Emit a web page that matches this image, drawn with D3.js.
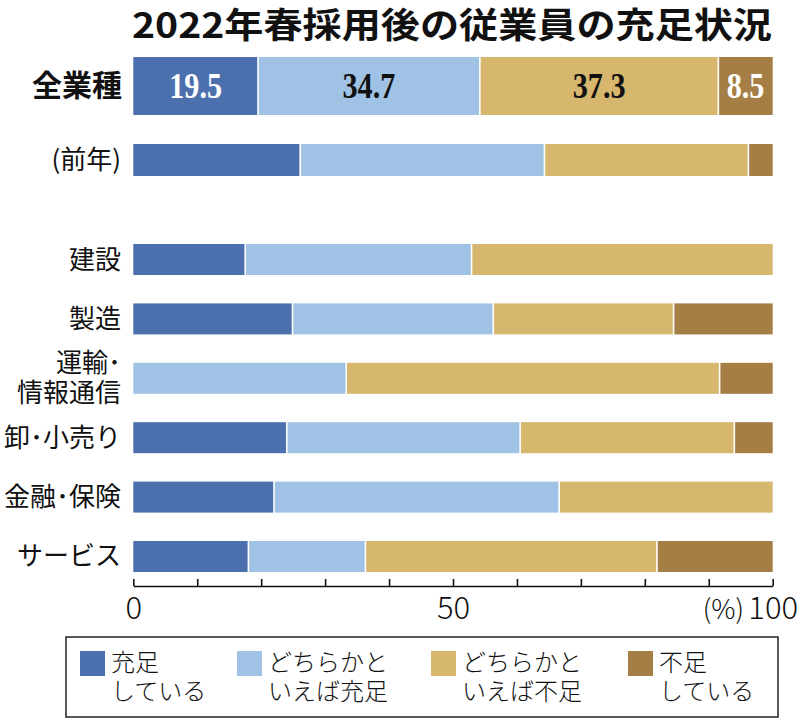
<!DOCTYPE html>
<html><head><meta charset="utf-8">
<script src="https://cdn.jsdelivr.net/npm/d3@7"></script>
<style>
html,body{margin:0;padding:0;background:#fff;}
svg{display:block;font-family:"Noto Sans CJK JP","Noto Sans",sans-serif;}
</style></head>
<body>
<svg id="chart" width="800" height="723"></svg>
<script>
// ---- data ----
const title = "2022年春採用後の従業員の充足状況";
const categories = ["全業種", "(前年)", "建設", "製造", "運輸･\n情報通信", "卸･小売り", "金融･保険", "サービス"];
const seriesNames = ["充足\nしている", "どちらかと\nいえば充足", "どちらかと\nいえば不足", "不足\nしている"];
const juusoku        = [19.5, 26.1, 17.5, 24.9, 0.0, 24.0, 22.0, 18.0];
const dochiraJuusoku = [34.7, 38.2, 35.4, 31.4, 33.3, 36.5, 44.6, 18.3];
const dochiraFusoku  = [37.3, 31.9, 47.1, 28.2, 58.4, 33.5, 33.4, 45.6];
const fusoku         = [8.5, 3.8, 0.0, 15.5, 8.3, 6.0, 0.0, 18.1];
const valueLabels = ["19.5", "34.7", "37.3", "8.5"]; // shown on 全業種 row
const tickValues = [0, 10, 20, 30, 40, 50, 60, 70, 80, 90, 100];
const tickLabels = {0: "0", 50: "50", 100: "100"};
const unitLabel = "(%)";

// ---- styles ----
const colors = ["#4b70ad", "#9fc2e5", "#d7b66d", "#a57e45"];
const labelColors = ["#ffffff", "#111111", "#111111", "#ffffff"];

const svg = d3.select("#chart");
const x = d3.scaleLinear().domain([0, 100]).range([133.3, 772.7]);

// row layout: two summary rows + band scale for industries
const topRows = categories.slice(0, 2);
const indRows = categories.slice(2);
const yTop = {};
yTop[topRows[0]] = {y: 57, h: 58};
yTop[topRows[1]] = {y: 144, h: 32};
const yInd = d3.scaleBand().domain(indRows).range([244, 572]).paddingInner(0.478).paddingOuter(0);
function rowPos(c) {
  if (yTop[c]) return yTop[c];
  return {y: yInd(c), h: yInd.bandwidth()};
}

const seriesVals = [juusoku, dochiraJuusoku, dochiraFusoku, fusoku];
const rows = categories.map((c, i) => {
  const vals = seriesVals.map(s => s[i]);
  let acc = 0;
  const segs = vals.map((v, k) => { const s = {k, v, x0: acc, x1: acc + v}; acc += v; return s; });
  return {c, i, segs};
});

// title
svg.append("text")
  .attr("x", 452).attr("y", 38)
  .attr("text-anchor", "middle")
  .attr("font-size", 35).attr("font-weight", "bold")
  .attr("textLength", 640).attr("lengthAdjust", "spacingAndGlyphs")
  .attr("fill", "#111")
  .text(title);

// bars
const gap = 0.8;
const rowG = svg.append("g").selectAll("g").data(rows).join("g");
rowG.each(function(r) {
  const p = rowPos(r.c);
  const g = d3.select(this);
  g.selectAll("rect").data(r.segs.filter(s => s.v > 0)).join("rect")
    .attr("x", s => x(s.x0) + (s.x0 > 0 ? gap : 0))
    .attr("width", s => Math.max(0, x(s.x1) - x(s.x0) - (s.x0 > 0 ? gap : 0) - (s.x1 < 99.95 ? gap : 0)))
    .attr("y", p.y).attr("height", p.h)
    .attr("fill", s => colors[s.k]);
});

// value labels on first row (condensed serif numerals)
const r0 = rows[0], p0 = rowPos(r0.c);
svg.append("g").selectAll("text").data(r0.segs).join("text")
  .attr("transform", s => `translate(${x((s.x0 + s.x1) / 2)},${p0.y + p0.h / 2 + 12}) scale(0.84,1)`)
  .attr("text-anchor", "middle")
  .style("font-family", "'Liberation Serif','DejaVu Serif',serif")
  .attr("font-weight", "bold")
  .attr("font-size", 36)
  .attr("fill", s => labelColors[s.k])
  .text(s => valueLabels[s.k]);

// category labels
const catG = svg.append("g").selectAll("text").data(rows).join("text")
  .attr("text-anchor", "end")
  .attr("fill", "#111")
  .attr("font-size", r => r.i === 0 ? 30 : 26)
  .attr("font-weight", r => r.i === 0 ? "bold" : "normal");
catG.each(function(r) {
  const p = rowPos(r.c);
  const lines = r.c.split("\n");
  const t = d3.select(this);
  const lh = 30;
  const cy = p.y + p.h / 2;
  const xr = r.i === 0 ? 122 : 121;
  lines.forEach((ln, j) => {
    t.append("tspan")
      .attr("x", xr)
      .attr("y", cy + (j - (lines.length - 1) / 2) * lh + (r.i === 0 ? 10 : 9))
      .text(ln);
  });
});

// axis
const axis = d3.axisBottom(x)
  .tickValues(tickValues)
  .tickSizeInner(-7).tickSizeOuter(0).tickPadding(11)
  .tickFormat(d => tickLabels[d] || "");
const ax = svg.append("g").attr("transform", "translate(0,586)").call(axis);
ax.select(".domain").attr("stroke", "#111").attr("stroke-width", 1.6);
ax.selectAll(".tick line").attr("stroke", "#111").attr("stroke-width", 1.6);
ax.selectAll(".tick text")
  .style("font-family", "'Noto Sans CJK JP','Noto Sans',sans-serif")
  .attr("font-weight", 300)
  .attr("font-size", 31).attr("fill", "#111");
svg.append("text")
  .attr("x", 744).attr("y", 619)
  .attr("text-anchor", "end")
  .attr("font-size", 27).attr("font-weight", 300).attr("fill", "#111")
  .text(unitLabel);

// legend
svg.append("rect")
  .attr("x", 66).attr("y", 637).attr("width", 712).attr("height", 80)
  .attr("fill", "none").attr("stroke", "#222").attr("stroke-width", 1.5);
const legXs = [80, 237, 431, 628];
const lg = svg.append("g").selectAll("g").data(seriesNames).join("g")
  .attr("transform", (d, i) => `translate(${legXs[i]},0)`);
lg.append("rect").attr("x", 0).attr("y", 651).attr("width", 25).attr("height", 25)
  .attr("fill", (d, i) => colors[i]);
lg.append("text")
  .attr("font-size", 24).attr("font-weight", 300).attr("fill", "#111")
  .selectAll("tspan").data(d => d.split("\n")).join("tspan")
  .attr("x", 31).attr("y", (d, j) => 671 + j * 29)
  .text(d => d);
</script>
</body></html>
